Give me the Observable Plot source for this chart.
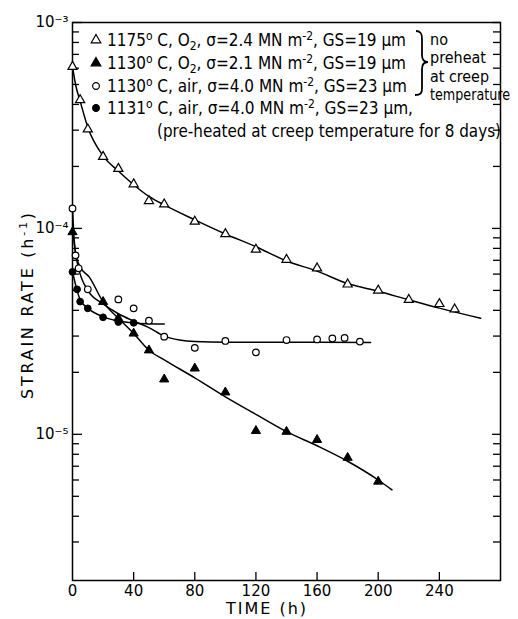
<!DOCTYPE html>
<html><head><meta charset="utf-8">
<script src="https://cdn.jsdelivr.net/npm/d3@7"></script>
<script src="https://cdn.jsdelivr.net/npm/@observablehq/plot@0.6"></script>
<style>
body{margin:0;background:#fff;}
#chart{width:518px;height:619px;}
</style></head><body><div id="chart"></div>
<script>
// ---- data ----
// 1175 °C, O2 (open triangles)
const tA = [0, 5, 10, 20, 30, 40, 50, 60, 80, 100, 120, 140, 160, 180, 200, 220, 240, 250];
const rA = [6.1e-4, 4.2e-4, 3.03e-4, 2.23e-4, 1.95e-4, 1.64e-4, 1.36e-4, 1.31e-4, 1.08e-4, 9.4e-5, 7.9e-5, 7.05e-5, 6.4e-5, 5.35e-5, 5.0e-5, 4.5e-5, 4.3e-5, 4.05e-5];
const tAfit = [0, 2, 5, 10, 20, 30, 40, 50, 60, 80, 100, 120, 140, 160, 180, 200, 220, 240, 267];
const rAfit = [6.1e-4, 5.0e-4, 4.15e-4, 3.1e-4, 2.25e-4, 1.9e-4, 1.63e-4, 1.43e-4, 1.3e-4, 1.1e-4, 9.4e-5, 8.15e-5, 6.95e-5, 6.2e-5, 5.4e-5, 4.95e-5, 4.5e-5, 4.1e-5, 3.66e-5];

// 1130 °C, O2 (filled triangles)
const tB = [0, 20, 30, 40, 50, 60, 80, 100, 120, 140, 160, 180, 200];
const rB = [9.6e-5, 4.4e-5, 3.66e-5, 3.09e-5, 2.56e-5, 1.85e-5, 2.09e-5, 1.6e-5, 1.04e-5, 1.03e-5, 9.4e-6, 7.7e-6, 5.9e-6];
const tBfit = [0, 2, 5, 11, 20, 30, 40, 50, 60, 80, 100, 120, 140, 160, 180, 200, 209];
const rBfit = [1.0e-4, 7.6e-5, 6.5e-5, 5.8e-5, 4.4e-5, 3.66e-5, 3.09e-5, 2.56e-5, 2.3e-5, 1.88e-5, 1.52e-5, 1.25e-5, 1.03e-5, 8.8e-6, 7.4e-6, 6.0e-6, 5.37e-6];

// 1130 °C, air (open circles)
const tC = [0, 2, 4, 10, 30, 40, 50, 60, 80, 100, 120, 140, 160, 170, 178, 188];
const rC = [1.25e-4, 7.4e-5, 6.4e-5, 5.06e-5, 4.52e-5, 4.09e-5, 3.56e-5, 2.98e-5, 2.63e-5, 2.84e-5, 2.5e-5, 2.87e-5, 2.89e-5, 2.92e-5, 2.94e-5, 2.82e-5];
const tCfit = [0, 1, 2, 4, 10, 20, 30, 40, 50, 60, 70, 80, 100, 140, 195];
const rCfit = [1.25e-4, 9.0e-5, 7.6e-5, 6.4e-5, 5.0e-5, 4.3e-5, 3.85e-5, 3.55e-5, 3.3e-5, 3.0e-5, 2.87e-5, 2.82e-5, 2.8e-5, 2.8e-5, 2.79e-5];

// 1131 °C, air, pre-heated (filled circles)
const tD = [0, 3, 5, 10, 20, 30, 40];
const rD = [6.15e-5, 5.06e-5, 4.41e-5, 4.09e-5, 3.7e-5, 3.51e-5, 3.48e-5];
const tDfit = [0, 3, 5, 10, 20, 30, 40, 50, 60];
const rDfit = [6.15e-5, 5.0e-5, 4.5e-5, 4.1e-5, 3.72e-5, 3.55e-5, 3.47e-5, 3.44e-5, 3.43e-5];

// axes
const xTickValues = [40, 80, 120, 160, 200, 240];
const xLabelValues = [0, 40, 80, 120, 160, 200, 240];
const yDecades = [1e-5, 1e-4, 1e-3];
const yDecadeLabels = ["10⁻⁵", "10⁻⁴", "10⁻³"];
const yMinor = [3e-6, 4e-6, 5e-6, 6e-6, 7e-6, 8e-6, 9e-6,
  2e-5, 3e-5, 4e-5, 5e-5, 6e-5, 7e-5, 8e-5, 9e-5,
  2e-4, 3e-4, 4e-4, 5e-4, 6e-4, 7e-4, 8e-4, 9e-4];

const legendRows = [
  {sym: "triangle", fill: "white", parts: [["1175"], ["o", "sup"], [" C, O"], ["2", "sub"], [", σ=2.4 MN m"], ["-2", "sup"], [", GS=19 µm"]]},
  {sym: "triangle", fill: "black", parts: [["1130"], ["o", "sup"], [" C, O"], ["2", "sub"], [", σ=2.1 MN m"], ["-2", "sup"], [", GS=19 µm"]]},
  {sym: "circle", fill: "white", parts: [["1130"], ["o", "sup"], [" C, air, σ=4.0 MN m"], ["-2", "sup"], [", GS=23 µm"]]},
  {sym: "circle", fill: "black", parts: [["1131"], ["o", "sup"], [" C, air, σ=4.0 MN m"], ["-2", "sup"], [", GS=23 µm,"]]}
];
const legendNote = "(pre-heated at creep temperature for 8 days)";
const braceNote = ["no", "preheat", "at creep", "temperature"];

const zip = (t, r) => t.map((v, i) => ({t: v, r: r[i]}));
const W = 518, H = 619, ML = 72, MR = 18, MT = 22, MB = 39;
const innerW = W - ML - MR, innerH = H - MT - MB;
const font = "'DejaVu Sans', sans-serif";

const chart = Plot.plot({
  width: W, height: H,
  marginLeft: ML, marginRight: MR, marginTop: MT, marginBottom: MB,
  style: {fontFamily: font, fontSize: "14px", background: "white", color: "black"},
  x: {domain: [0, 280]},
  y: {type: "log", domain: [1.95e-6, 1e-3]},
  marks: [
    Plot.frame({stroke: "black", strokeWidth: 1.5}),
    Plot.ruleY(yMinor, {insetRight: innerW - 7, strokeWidth: 1.3}),
    Plot.ruleY(yMinor, {insetLeft: innerW - 7, strokeWidth: 1.3}),
    Plot.ruleY(yDecades, {insetRight: innerW - 10, strokeWidth: 1.3}),
    Plot.ruleY(yDecades, {insetLeft: innerW - 8, strokeWidth: 1.3}),
    Plot.ruleX(xTickValues, {insetTop: innerH - 8, strokeWidth: 1.3}),
    Plot.axisX(xLabelValues, {tickSize: 0, tickPadding: 5, label: null, fontSize: 15}),
    Plot.axisY(yDecades, {tickSize: 0, tickPadding: 4, label: null, fontSize: 15,
      tickFormat: d => yDecadeLabels[yDecades.indexOf(d)]}),
    Plot.line(zip(tAfit, rAfit), {x: "t", y: "r", curve: "monotone-x", strokeWidth: 1.5}),
    Plot.line(zip(tBfit, rBfit), {x: "t", y: "r", curve: "monotone-x", strokeWidth: 1.5}),
    Plot.line(zip(tCfit, rCfit), {x: "t", y: "r", curve: "monotone-x", strokeWidth: 1.5}),
    Plot.line(zip(tDfit, rDfit), {x: "t", y: "r", curve: "monotone-x", strokeWidth: 1.5}),
    Plot.dot(zip(tA, rA), {x: "t", y: "r", symbol: "triangle", r: 3.4, fill: "white", stroke: "black", strokeWidth: 1.2}),
    Plot.dot(zip(tB, rB), {x: "t", y: "r", symbol: "triangle", r: 3.4, fill: "black", stroke: "black", strokeWidth: 1}),
    Plot.dot(zip(tC, rC), {x: "t", y: "r", symbol: "circle", r: 3.3, fill: "white", stroke: "black", strokeWidth: 1.2}),
    Plot.dot(zip(tD, rD), {x: "t", y: "r", symbol: "circle", r: 3.4, fill: "black", stroke: "black", strokeWidth: 1})
  ]
});
document.getElementById("chart").appendChild(chart);

// ---- legend, brace and axis titles drawn into the same SVG ----
const svg = d3.select(chart);
const lg = svg.append("g").attr("font-family", "'DejaVu Sans Condensed', 'DejaVu Sans', sans-serif")
  .attr("font-size", 17).attr("fill", "black").attr("text-anchor", "start");
const rowBase = [46, 69, 92, 114];
const rowWidths = [299, 299, 300, 306];
legendRows.forEach((row, i) => {
  const sym = row.sym === "triangle" ? d3.symbolTriangle : d3.symbolCircle;
  lg.append("path").attr("d", d3.symbol(sym, row.sym === "triangle" ? 40 : 36)())
    .attr("transform", `translate(96,${rowBase[i] - 6})`)
    .attr("fill", row.fill).attr("stroke", "black").attr("stroke-width", 1.2);
  const tx = lg.append("text").attr("x", 107).attr("y", rowBase[i])
    .attr("textLength", rowWidths[i]).attr("lengthAdjust", "spacingAndGlyphs");
  let shift = 0;
  row.parts.forEach(([s, kind]) => {
    const target = kind === "sup" ? -6 : kind === "sub" ? 4 : 0;
    tx.append("tspan").attr("dy", target - shift).attr("font-size", kind ? 12 : 17).text(s);
    shift = target;
  });
});
lg.append("text").attr("x", 157).attr("y", 137).attr("textLength", 344).attr("lengthAdjust", "spacingAndGlyphs").text(legendNote);
// brace
lg.append("path")
  .attr("d", "M416,31 C421,31 422,34 422,39 L422,55 C422,60 424,62 428,62 C424,62 422,64 422,69 L422,88 C422,93 421,95 415,95")
  .attr("fill", "none").attr("stroke", "black").attr("stroke-width", 1.8);
const braceBase = [45, 63, 82, 100];
const braceWidths = [18, 56, 59, 80];
braceNote.forEach((s, i) => {
  lg.append("text").attr("x", 430).attr("y", braceBase[i]).attr("font-size", 15)
    .attr("textLength", braceWidths[i]).attr("lengthAdjust", "spacingAndGlyphs").text(s);
});
// axis titles
svg.append("text").attr("font-family", font).attr("font-size", 16)
  .attr("text-anchor", "middle").attr("transform", "translate(33,306) rotate(-90)")
  .attr("textLength", 186).attr("lengthAdjust", "spacing")
  .call(t => { t.append("tspan").text("STRAIN RATE (h"); t.append("tspan").attr("dy", -6).attr("font-size", 11).text("-1"); t.append("tspan").attr("dy", 6).text(")"); });
svg.append("text").attr("font-family", font).attr("font-size", 16).attr("letter-spacing", 2)
  .attr("text-anchor", "middle").attr("x", 267).attr("y", 614).text("TIME (h)");
</script></body></html>
